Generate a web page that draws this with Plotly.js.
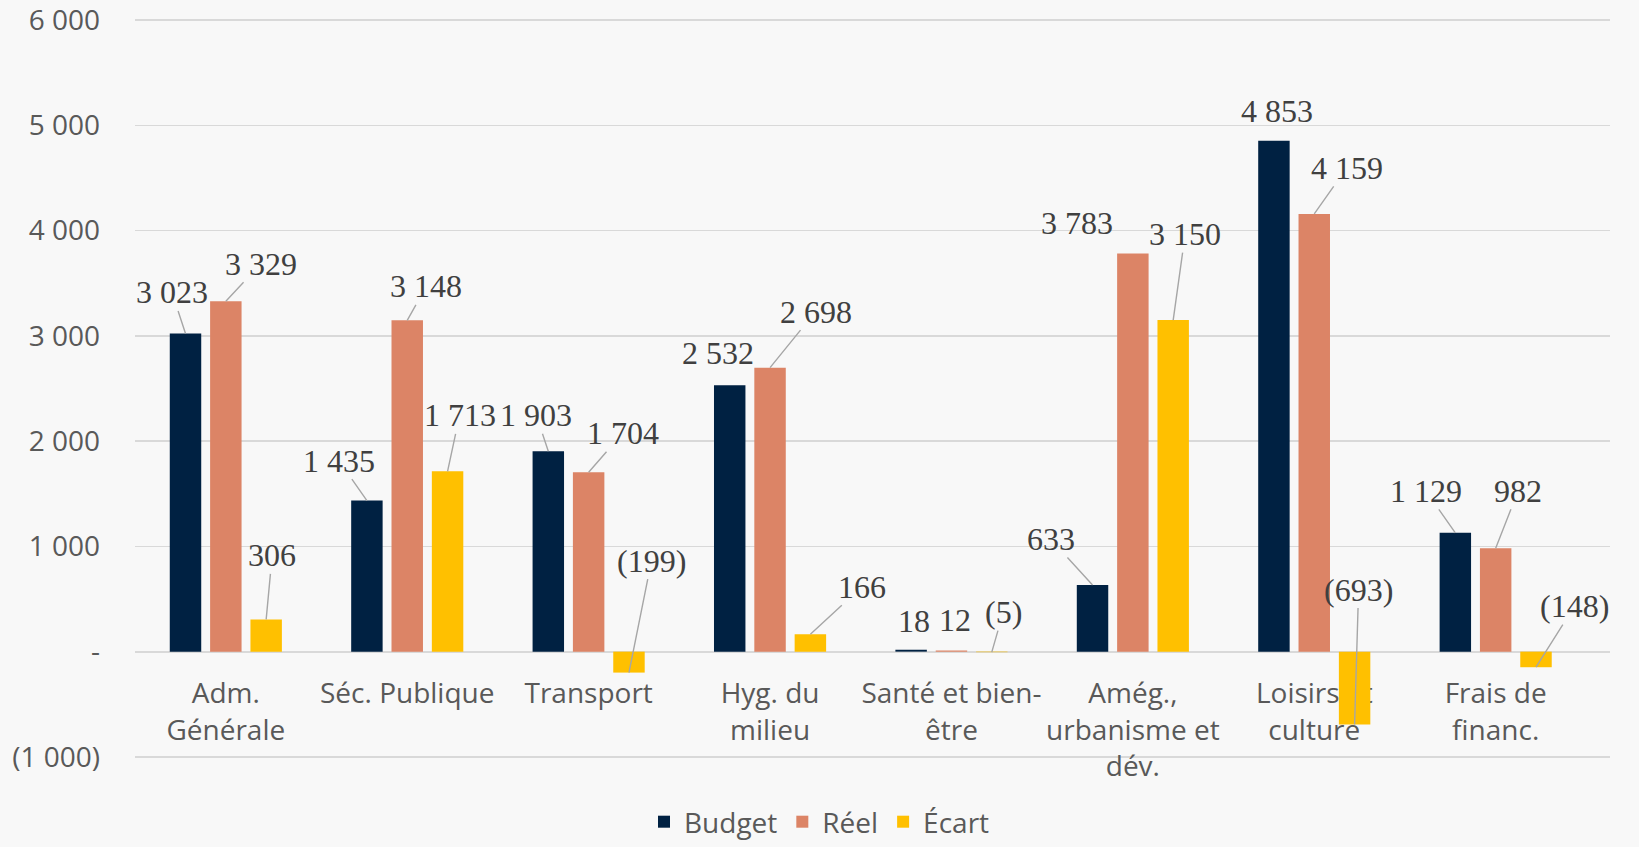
<!DOCTYPE html>
<html><head><meta charset="utf-8">
<script src="https://cdn.plot.ly/plotly-3.0.1.min.js"></script>
<style>html,body{margin:0;padding:0;background:#f8f8f8}</style>
</head><body><div id="chart" style="width:1639px;height:847px"></div>
<script>
const categories = ['Adm.<br>Générale', 'Séc. Publique', 'Transport', 'Hyg. du<br>milieu',
  'Santé et bien-<br>être', 'Amég.,<br>urbanisme et<br>dév.', 'Loisirs et<br>culture', 'Frais de<br>financ.'];
const seriesNames = ['Budget', 'Réel', 'Écart'];
const budget = [3023, 1435, 1903, 2532, 18, 633, 4853, 1129];
const reel   = [3329, 3148, 1704, 2698, 12, 3783, 4159, 982];
const ecart  = [306, 1713, -199, 166, -5, 3150, -693, -148];
const yTickVals = [-1000, 0, 1000, 2000, 3000, 4000, 5000, 6000];
const yTickText = ['(1 000)', '-', '1 000', '2 000', '3 000', '4 000', '5 000', '6 000'];

// label placement (pixel offsets of label centre from bar end) and leader flags
const budgetOff = [[-13.5,-41],[-28,-40],[-12,-36],[-12,-32],[3,-29],[-42,-46],[3,-29.5],[-29.5,-42]];
const reelOff   = [[35,-37.5],[19,-34],[34,-39],[45.5,-56],[3.5,-30],[-56,-30],[32.5,-46],[22.5,-57.5]];
const ecartOff  = [[6,-64],[12,-56],[22.5,-112],[51.5,-47.5],[11.5,-40],[12,-86],[4,-135],[38.5,-61]];
const budgetLead = [1,1,1,0,0,1,0,1];
const reelLead   = [1,1,1,1,0,0,1,1];
const ecartLead  = [1,1,1,1,1,1,1,1];

const colors = ['#002142', '#DC8466', '#FFC000'];
const yRange = [-1020, 6020];
const bargap = 0.333, bargroupgap = 0.22;

function fmt(v) {
  const s = Math.abs(v).toString().replace(/\B(?=(\d{3})+(?!\d))/g, ' ');
  return v < 0 ? '(' + s + ')' : s;
}

const series = [budget, reel, ecart];
const traces = series.map((vals, k) => ({
  type: 'bar', name: seriesNames[k], x: categories, y: vals,
  marker: {color: colors[k]}, hoverinfo: 'skip'
}));

const offs = [budgetOff, reelOff, ecartOff];
const leads = [budgetLead, reelLead, ecartLead];
const slot = (1 - bargap) / 3;
const annotations = [];
series.forEach((vals, k) => {
  vals.forEach((v, i) => {
    annotations.push({
      x: i + (k - 1) * slot, y: v, xref: 'x', yref: 'y',
      text: fmt(v), showarrow: true, arrowhead: 0, standoff: 0,
      arrowwidth: 1.4, arrowcolor: leads[k][i] ? '#A6A6A6' : 'rgba(0,0,0,0)',
      ax: offs[k][i][0], ay: offs[k][i][1], axref: 'pixel', ayref: 'pixel',
      font: {family: 'Liberation Serif, Times New Roman, serif', size: 32, color: '#404040'},
      borderpad: 0
    });
  });
});

const layout = {
  width: 1639, height: 847,
  paper_bgcolor: '#f8f8f8', plot_bgcolor: '#f8f8f8',
  margin: {l: 135, r: 29, t: 18, b: 88, autoexpand: false},
  barmode: 'group', bargap: bargap, bargroupgap: bargroupgap,
  font: {family: 'Open Sans, sans-serif', size: 28, color: '#595959'},
  xaxis: {
    type: 'category', anchor: 'free', position: (0 - yRange[0]) / (yRange[1] - yRange[0]),
    showline: true, linecolor: '#D9D9D9', linewidth: 2, ticks: '', showgrid: false,
    layer: 'below traces', automargin: false, ticklabelstandoff: 17,
    tickfont: {family: 'Open Sans, sans-serif', size: 28, color: '#595959'}
  },
  yaxis: {
    range: yRange, tickvals: yTickVals, ticktext: yTickText,
    gridcolor: '#D9D9D9', gridwidth: 1.3, zeroline: false, showline: false,
    ticks: '', automargin: false, ticklabelstandoff: 34, ticklabeloverflow: 'allow',
    tickfont: {family: 'Open Sans, sans-serif', size: 28, color: '#595959'}
  },
  showlegend: true,
  legend: {orientation: 'h', xref: 'container', yref: 'container', x: 0.5, xanchor: 'center',
    y: 0.0, yanchor: 'bottom',
    font: {family: 'Open Sans, sans-serif', size: 28, color: '#595959'}, bgcolor: 'rgba(0,0,0,0)'},
  annotations: annotations,
  hovermode: false
};

Plotly.newPlot('chart', traces, layout, {displayModeBar: false, staticPlot: true});
</script></body></html>
